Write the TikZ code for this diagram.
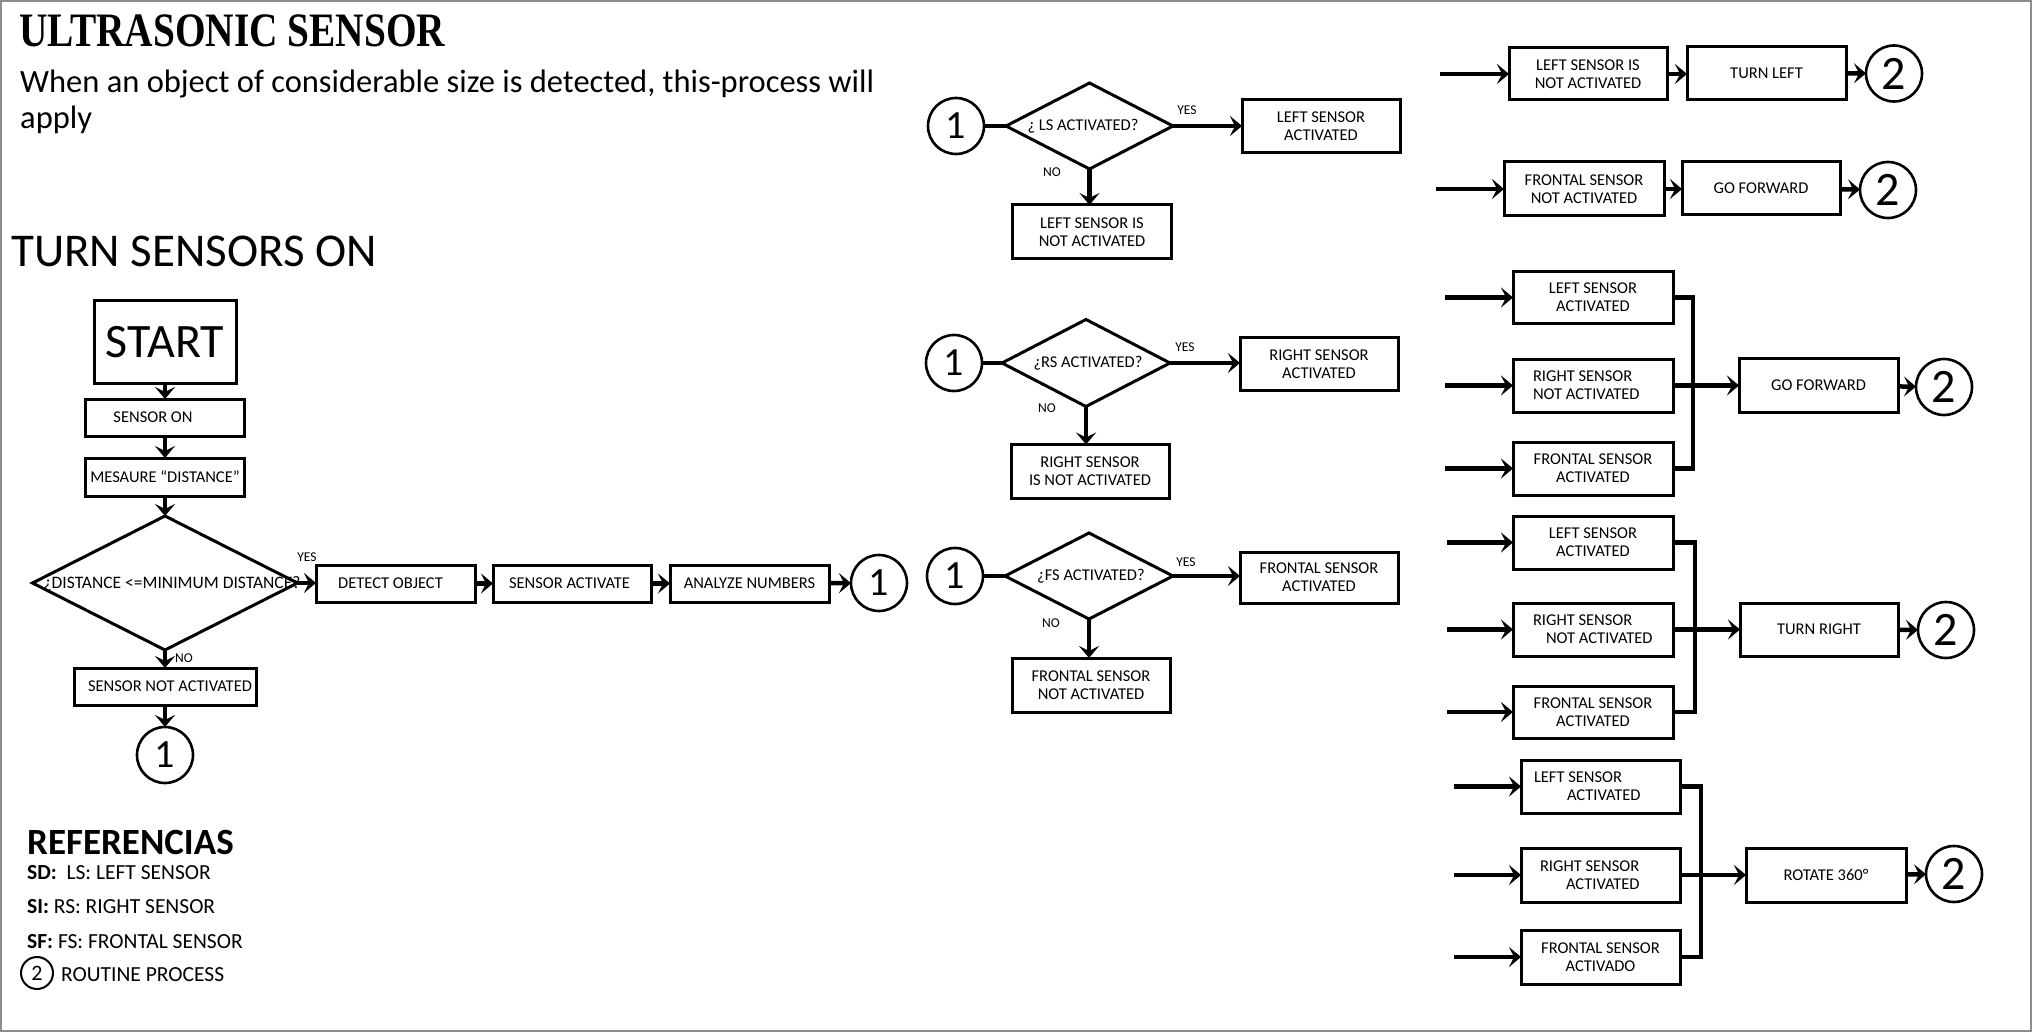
\documentclass[tikz,border=0pt]{standalone}
\usepackage{fontspec}
\usepackage{graphicx}
\setmainfont{Carlito}
\newfontfamily\ttlf{Liberation Serif}
\usetikzlibrary{arrows.meta,shapes.geometric}
\newcommand\bxf{\fontsize{16.5}{18}\selectfont}
\newcommand\lnx[2]{\makebox[150pt][l]{\hspace*{#1}#2}}
\tikzset{
  box/.style={draw, line width=3pt, inner sep=0pt, outer sep=0pt, align=center, font=\bxf},
  dia/.style={diamond, draw, line width=3pt, inner sep=0pt, outer sep=0pt},
  txt/.style={inner sep=0pt, font=\bxf},
  lbl/.style={inner sep=0pt, font=\fontsize{13.5}{14}\selectfont},
  conna/.style={circle, draw, line width=2.6pt, minimum size=56pt, inner sep=0pt, outer sep=0pt, font=\fontsize{40}{40}\selectfont},
  connb/.style={circle, draw, line width=2.6pt, minimum size=56pt, inner sep=0pt, outer sep=0pt, font=\fontsize{48}{48}\selectfont},
  ln/.style={line width=4.5pt, line join=miter},
  arr/.style={ln, -{Stealth[length=12pt,width=20pt,inset=5pt]}},
}
\begin{document}
\begin{tikzpicture}[x=1pt,y=-1pt]
\useasboundingbox (0,0) rectangle (2032,1032);
\draw[black!45, line width=2pt] (1,1) rectangle (2031,1031);

% headings
\node[anchor=base west, inner sep=0pt] (ttl) at (19,47) {\scalebox{0.82}[1]{\ttlf\bfseries\fontsize{48}{48}\selectfont ULTRASONIC SENSOR}};
\node[anchor=base west, inner sep=0pt, font=\fontsize{32.5}{36}\selectfont] (sub1) at (20,93) {When an object of considerable size is detected, this-process will};
\node[anchor=base west, inner sep=0pt, font=\fontsize{32.5}{36}\selectfont] (sub2) at (20,129) {apply};
\node[anchor=base west, inner sep=0pt, font=\fontsize{47}{47}\selectfont] (tso) at (11,267) {TURN SENSORS ON};

% left column
\node[box, minimum width=142, minimum height=82, font=\fontsize{48}{50}\selectfont] (start) at (165,342) {START};
\node[box, minimum width=159, minimum height=37] (son) at (165,417.5) {SENSOR ON\hspace*{24pt}};
\node[box, minimum width=159, minimum height=38] (mes) at (165,477) {MESAURE “DISTANCE”};
\node[dia, minimum width=265, minimum height=134] (dq) at (165,583) {};
\node[txt, anchor=base, font=\fontsize{17.5}{18}\selectfont] (dqt) at (172,588.5) {¿DISTANCE <=MINIMUM DISTANCE?};
\node[lbl] (yes0) at (307,557) {YES};
\node[lbl] (no0) at (184,658) {NO};
\node[box, minimum width=159, minimum height=37] (det) at (395.5,583.5) {DETECT OBJECT\hspace*{10pt}};
\node[box, minimum width=158, minimum height=37] (sact) at (572,583.5) {SENSOR ACTIVATE\hspace*{5pt}};
\node[box, minimum width=159, minimum height=37] (ana) at (749.5,583.5) {ANALYZE NUMBERS};
\node[conna] (c1a) at (879,583) {1};
\node[box, minimum width=182, minimum height=37] (sna) at (165,686.5) {\hspace*{10pt}SENSOR NOT ACTIVATED};
\node[conna] (c1b) at (165,755) {1};

\draw[arr] (start) -- (son);
\draw[arr] (son) -- (mes);
\draw[arr] (mes) -- (dq);
\draw[arr] (dq.east) -- (dq.east -| det.west);
\draw[arr] (det) -- (sact);
\draw[arr] (sact) -- (ana);
\draw[arr] (ana) -- (c1a);
\draw[arr] (dq.south) -- (sna.north);
\draw[arr] (sna) -- (c1b);

% legend
\node[anchor=base west, inner sep=0pt, font=\bfseries\fontsize{37}{37}\selectfont] (refs) at (27,854) {REFERENCIAS};
\node[anchor=base west, inner sep=0pt, font=\fontsize{21.5}{22}\selectfont] (lg1) at (27,879) {\textbf{SD:}\ \ LS: LEFT SENSOR};
\node[anchor=base west, inner sep=0pt, font=\fontsize{21.5}{22}\selectfont] (lg2) at (27,913) {\textbf{SI:} RS: RIGHT SENSOR};
\node[anchor=base west, inner sep=0pt, font=\fontsize{21.5}{22}\selectfont] (lg3) at (27,948) {\textbf{SF:} FS: FRONTAL SENSOR};
\node[circle, draw, line width=2pt, minimum size=32pt, inner sep=0pt, font=\fontsize{22}{22}\selectfont] (lgc) at (37,973) {2};
\node[anchor=base west, inner sep=0pt, font=\fontsize{21.5}{22}\selectfont] (lg4) at (61,981) {ROUTINE PROCESS};

% middle column: LS
\node[conna] (cL) at (956,126) {1};
\node[dia, minimum width=167, minimum height=86] (dL) at (1089.5,126) {};
\node[txt, font=\fontsize{16.5}{18}\selectfont] (dLt) at (1083,126) {¿ LS ACTIVATED?};
\node[lbl] (yesL) at (1187,110) {YES};
\node[lbl] (noL) at (1052,172) {NO};
\node[box, minimum width=158, minimum height=53] (lsaM) at (1321,126.5) {LEFT SENSOR\\ACTIVATED};
\node[box, minimum width=159, minimum height=54] (lsnM) at (1092,232) {LEFT SENSOR IS\\NOT ACTIVATED};
\draw[ln] (cL) -- (dL.west);
\draw[arr] (dL.east) -- (dL.east -| lsaM.west);
\draw[arr] (dL.south) -- (dL.south |- lsnM.north);

% middle column: RS
\node[conna] (cR) at (954,363) {1};
\node[dia, minimum width=168, minimum height=87] (dR) at (1086,363) {};
\node[txt, font=\fontsize{16.5}{18}\selectfont] (dRt) at (1088,363) {¿RS ACTIVATED?};
\node[lbl] (yesR) at (1185,347) {YES};
\node[lbl] (noR) at (1047,408) {NO};
\node[box, minimum width=158, minimum height=53] (rsaM) at (1319,364) {RIGHT SENSOR\\ACTIVATED};
\node[box, minimum width=158, minimum height=54] (rsnM) at (1090,471.5) {RIGHT SENSOR\\IS NOT ACTIVATED};
\draw[ln] (cR) -- (dR.west);
\draw[arr] (dR.east) -- (dR.east -| rsaM.west);
\draw[arr] (dR.south) -- (dR.south |- rsnM.north);

% middle column: FS
\node[conna] (cF) at (955,576) {1};
\node[dia, minimum width=168, minimum height=86] (dF) at (1089,576) {};
\node[txt, font=\fontsize{16.5}{18}\selectfont] (dFt) at (1091,576) {¿FS ACTIVATED?};
\node[lbl] (yesF) at (1186,562) {YES};
\node[lbl] (noF) at (1051,623) {NO};
\node[box, minimum width=158, minimum height=51] (fsaM) at (1319,577.5) {FRONTAL SENSOR\\ACTIVATED};
\node[box, minimum width=158, minimum height=54] (fsnM) at (1091,685) {FRONTAL SENSOR\\NOT ACTIVATED};
\draw[ln] (cF) -- (dF.west);
\draw[arr] (dF.east) -- (dF.east -| fsaM.west);
\draw[arr] (dF.south) -- (dF.south |- fsnM.north);

% right column: row A
\coordinate (inA) at (1440,74);
\node[box, minimum width=158, minimum height=52] (lsnA) at (1588,74) {LEFT SENSOR IS\\NOT ACTIVATED};
\node[box, minimum width=159, minimum height=53] (tlA) at (1766.5,73) {TURN LEFT};
\node[connb] (c2A) at (1894,73.5) {2};
\draw[arr] (inA) -- (lsnA.west);
\draw[arr] (lsnA.east) -- (lsnA.east -| tlA.west);
\draw[arr] (tlA) -- (c2A);

% right column: row B
\coordinate (inB) at (1436,189);
\node[box, minimum width=160, minimum height=54] (fsnB) at (1584,189) {FRONTAL SENSOR\\NOT ACTIVATED};
\node[box, minimum width=158, minimum height=53] (gfB) at (1761,188) {GO FORWARD};
\node[connb] (c2B) at (1888,190) {2};
\draw[arr] (inB) -- (fsnB.west);
\draw[arr] (fsnB.east) -- (fsnB.east -| gfB.west);
\draw[arr] (gfB) -- (c2B);

% right column: group C (go forward)
\coordinate (inC1) at (1445,297.5);
\coordinate (inC2) at (1445,385.5);
\coordinate (inC3) at (1445,468.5);
\coordinate (busC) at (1693,385.5);
\node[box, minimum width=160, minimum height=52] (lsaC) at (1593,297.5) {LEFT SENSOR\\ACTIVATED};
\node[box, minimum width=160, minimum height=53] (rsnC) at (1593,385.5) {\lnx{15pt}{RIGHT SENSOR}\\\lnx{15pt}{NOT ACTIVATED}};
\node[box, minimum width=160, minimum height=53] (fsaC) at (1593,468.5) {FRONTAL SENSOR\\ACTIVATED};
\node[box, minimum width=159, minimum height=54] (gfC) at (1818.5,385.5) {GO FORWARD};
\node[connb] (c2C) at (1944,387) {2};
\draw[arr] (inC1) -- (lsaC.west);
\draw[arr] (inC2) -- (rsnC.west);
\draw[arr] (inC3) -- (fsaC.west);
\draw[ln] (lsaC.east) -| (busC) |- (fsaC.east);
\draw[arr] (rsnC.east) -- (gfC.west);
\draw[arr] (gfC) -- (c2C);

% right column: group D (turn right)
\coordinate (inD1) at (1447,542.5);
\coordinate (inD2) at (1447,629.5);
\coordinate (inD3) at (1447,712);
\coordinate (busD) at (1695,629.5);
\node[box, minimum width=160, minimum height=53] (lsaD) at (1593,542.5) {LEFT SENSOR\\ACTIVATED};
\node[box, minimum width=160, minimum height=53] (rsnD) at (1593,629.5) {\lnx{15pt}{RIGHT SENSOR}\\\lnx{28pt}{NOT ACTIVATED}};
\node[box, minimum width=160, minimum height=52] (fsaD) at (1593,712) {FRONTAL SENSOR\\ACTIVATED};
\node[box, minimum width=158, minimum height=53] (trD) at (1819,629.5) {TURN RIGHT};
\node[connb] (c2D) at (1946,630) {2};
\draw[arr] (inD1) -- (lsaD.west);
\draw[arr] (inD2) -- (rsnD.west);
\draw[arr] (inD3) -- (fsaD.west);
\draw[ln] (lsaD.east) -| (busD) |- (fsaD.east);
\draw[arr] (rsnD.east) -- (trD.west);
\draw[arr] (trD) -- (c2D);

% right column: group E (rotate)
\coordinate (inE1) at (1454,786.5);
\coordinate (inE2) at (1454,875);
\coordinate (inE3) at (1454,957);
\coordinate (busE) at (1701,875);
\node[box, minimum width=159, minimum height=53] (lsaE) at (1600.5,786.5) {\lnx{8.5pt}{LEFT SENSOR}\\\lnx{41.5pt}{ACTIVATED}};
\node[box, minimum width=159, minimum height=54] (rsaE) at (1600.5,875) {\lnx{14.5pt}{RIGHT SENSOR}\\\lnx{40.5pt}{ACTIVATED}};
\node[box, minimum width=159, minimum height=54] (fsaE) at (1600.5,957) {FRONTAL SENSOR\\ACTIVADO};
\node[box, minimum width=160, minimum height=54] (rotE) at (1826,875) {ROTATE 360°};
\node[connb] (c2E) at (1954,874) {2};
\draw[arr] (inE1) -- (lsaE.west);
\draw[arr] (inE2) -- (rsaE.west);
\draw[arr] (inE3) -- (fsaE.west);
\draw[ln] (lsaE.east) -| (busE) |- (fsaE.east);
\draw[arr] (rsaE.east) -- (rotE.west);
\draw[arr] (rotE) -- (c2E);
\end{tikzpicture}
\end{document}
